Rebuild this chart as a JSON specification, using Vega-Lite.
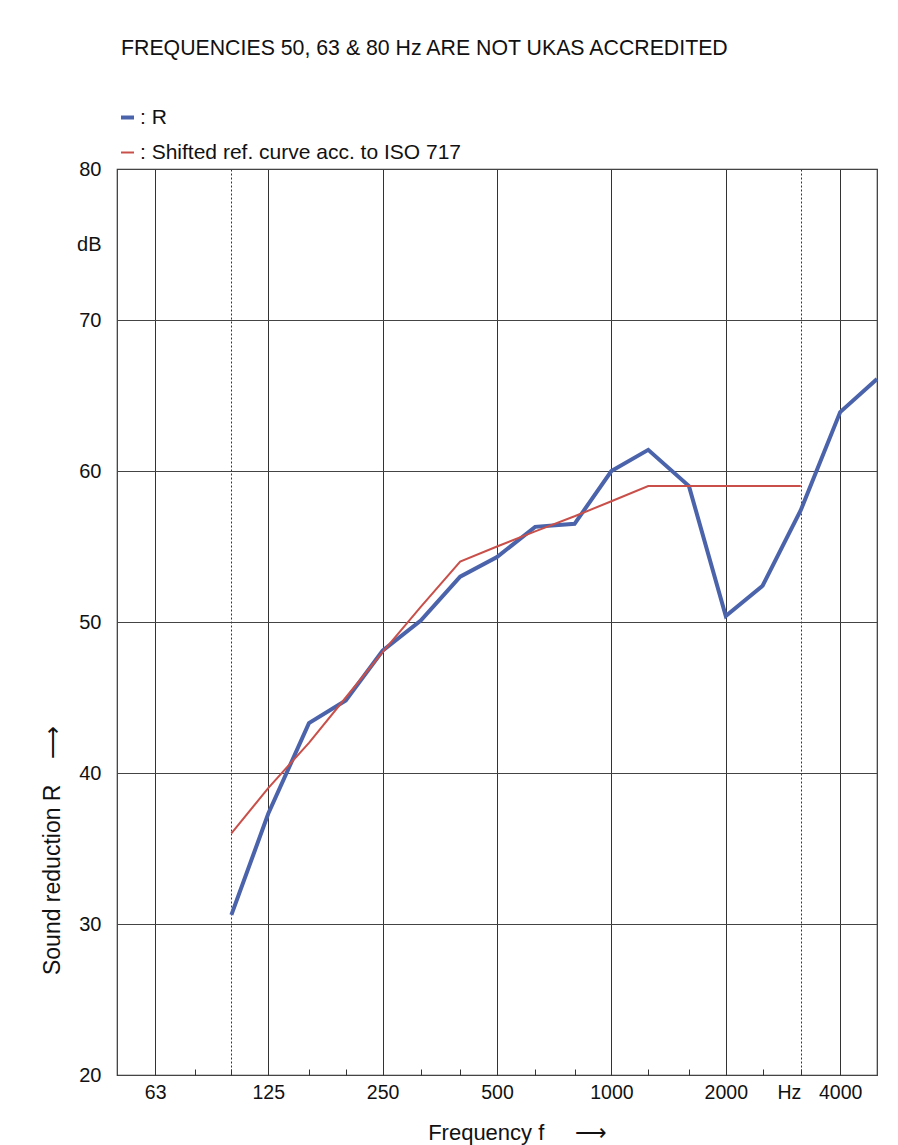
{
  "$schema": "https://vega.github.io/schema/vega-lite/v6.json",
  "width": 760,
  "height": 906,
  "autosize": "none",
  "padding": {"left": 117, "top": 169, "right": 21, "bottom": 70},
  "background": "white",
  "config": {
    "font": "Liberation Sans",
    "view": {"stroke": "#333333", "strokeWidth": 1.2}
  },
  "title": {
    "text": "FREQUENCIES 50, 63 & 80 Hz ARE NOT UKAS ACCREDITED",
    "anchor": "start",
    "frame": "group",
    "dx": 4,
    "offset": 48,
    "fontSize": 21.3,
    "fontWeight": "normal",
    "color": "#111111"
  },
  "data": {
    "values": [
      {"frequency": 100, "series": "R", "level": 30.6},
      {"frequency": 125, "series": "R", "level": 37.3},
      {"frequency": 160, "series": "R", "level": 43.3},
      {"frequency": 200, "series": "R", "level": 44.8},
      {"frequency": 250, "series": "R", "level": 48.1},
      {"frequency": 315, "series": "R", "level": 50.1},
      {"frequency": 400, "series": "R", "level": 53.0},
      {"frequency": 500, "series": "R", "level": 54.3},
      {"frequency": 630, "series": "R", "level": 56.3},
      {"frequency": 800, "series": "R", "level": 56.5},
      {"frequency": 1000, "series": "R", "level": 60.0},
      {"frequency": 1250, "series": "R", "level": 61.4},
      {"frequency": 1600, "series": "R", "level": 59.0},
      {"frequency": 2000, "series": "R", "level": 50.4},
      {"frequency": 2500, "series": "R", "level": 52.4},
      {"frequency": 3150, "series": "R", "level": 57.4},
      {"frequency": 4000, "series": "R", "level": 63.9},
      {"frequency": 5000, "series": "R", "level": 66.1},
      {"frequency": 100, "series": "Shifted ref. curve acc. to ISO 717", "level": 36},
      {"frequency": 125, "series": "Shifted ref. curve acc. to ISO 717", "level": 39},
      {"frequency": 160, "series": "Shifted ref. curve acc. to ISO 717", "level": 42},
      {"frequency": 200, "series": "Shifted ref. curve acc. to ISO 717", "level": 45},
      {"frequency": 250, "series": "Shifted ref. curve acc. to ISO 717", "level": 48},
      {"frequency": 315, "series": "Shifted ref. curve acc. to ISO 717", "level": 51},
      {"frequency": 400, "series": "Shifted ref. curve acc. to ISO 717", "level": 54},
      {"frequency": 500, "series": "Shifted ref. curve acc. to ISO 717", "level": 55},
      {"frequency": 630, "series": "Shifted ref. curve acc. to ISO 717", "level": 56},
      {"frequency": 800, "series": "Shifted ref. curve acc. to ISO 717", "level": 57},
      {"frequency": 1000, "series": "Shifted ref. curve acc. to ISO 717", "level": 58},
      {"frequency": 1250, "series": "Shifted ref. curve acc. to ISO 717", "level": 59},
      {"frequency": 1600, "series": "Shifted ref. curve acc. to ISO 717", "level": 59},
      {"frequency": 2000, "series": "Shifted ref. curve acc. to ISO 717", "level": 59},
      {"frequency": 2500, "series": "Shifted ref. curve acc. to ISO 717", "level": 59},
      {"frequency": 3150, "series": "Shifted ref. curve acc. to ISO 717", "level": 59}
    ]
  },
  "mark": {"type": "line"},
  "encoding": {
    "x": {
      "field": "frequency",
      "type": "quantitative",
      "scale": {"type": "log", "domain": [50, 5000], "nice": false},
      "axis": {
        "title": "Frequency f\u00a0\u00a0\u00a0\u00a0\u00a0⟶",
        "titleFontSize": 22,
        "titleFontWeight": "normal",
        "titleColor": "#111111",
        "titleX": 400,
        "titleY": 57,
        "titleBaseline": "middle",
        "values": [63, 80, 100, 125, 160, 200, 250, 315, 400, 500, 630, 800, 1000, 1250, 1600, 2000, 2500, 3150, 4000],
        "format": "d",
        "labelExpr": "indexof([63,125,250,500,1000,2000,4000], datum.value) >= 0 ? format(datum.value, 'd') : (datum.value == 3150 ? 'Hz' : '')",
        "labelAlign": {"condition": {"test": "datum.value == 3150", "value": "right"}, "value": "center"},
        "labelOverlap": false,
        "labelFlush": false,
        "labelFontSize": 19.5,
        "labelColor": "#111111",
        "labelPadding": 14,
        "domain": false,
        "ticks": true,
        "tickSize": -6,
        "tickColor": "#333333",
        "tickWidth": 1,
        "grid": true,
        "gridColor": "#333333",
        "gridWidth": 1,
        "gridDash": {"condition": {"test": "datum.value == 100 || datum.value == 3150", "value": [2, 2]}, "value": []},
        "gridOpacity": {"condition": {"test": "indexof([63,100,125,250,500,1000,2000,3150,4000], datum.value) >= 0", "value": 1}, "value": 0}
      }
    },
    "y": {
      "field": "level",
      "type": "quantitative",
      "scale": {"domain": [20, 80], "nice": false, "zero": false},
      "axis": {
        "title": "Sound reduction R\u00a0\u00a0\u00a0\u00a0⟶",
        "titleFontSize": 23,
        "titleFontWeight": "normal",
        "titleColor": "#111111",
        "titleX": -65,
        "titleY": 681,
        "titleBaseline": "middle",
        "titleAlign": "center",
        "values": [20, 30, 40, 50, 60, 70, 75, 80],
        "labelExpr": "datum.value == 75 ? 'dB' : format(datum.value, 'd')",
        "labelFontSize": 20,
        "labelColor": "#111111",
        "labelPadding": 16,
        "ticks": false,
        "domain": false,
        "grid": true,
        "gridColor": "#444444",
        "gridWidth": 1,
        "gridOpacity": {"condition": {"test": "datum.value == 75", "value": 0}, "value": 1}
      }
    },
    "color": {
      "field": "series",
      "type": "nominal",
      "scale": {"domain": ["R", "Shifted ref. curve acc. to ISO 717"], "range": ["#4a63aa", "#c9504a"]},
      "legend": {
        "title": null,
        "orient": "none",
        "legendX": 0,
        "legendY": -62,
        "symbolType": "stroke",
        "symbolSize": 170,
        "labelExpr": "': ' + datum.label",
        "labelFontSize": 21,
        "labelLimit": 600,
        "labelColor": "#111111",
        "labelOffset": 2,
        "rowPadding": 13
      }
    },
    "strokeWidth": {
      "field": "series",
      "type": "nominal",
      "scale": {"type": "ordinal", "domain": ["R", "Shifted ref. curve acc. to ISO 717"], "range": [4, 2]}
    }
  }
}
